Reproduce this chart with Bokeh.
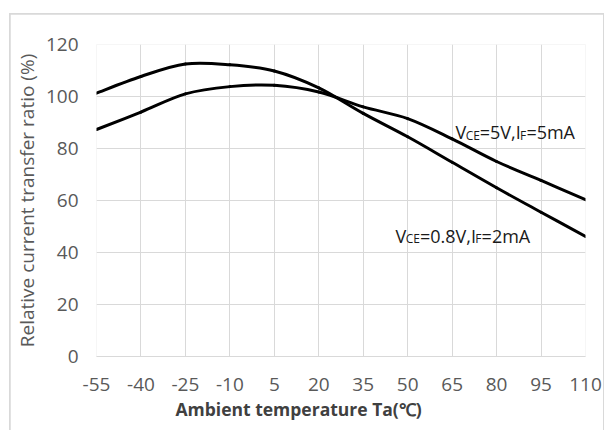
from bokeh.plotting import figure
from bokeh.models import FixedTicker, ColumnDataSource, Range1d, Title
from bokeh.layouts import column
from bokeh.embed import file_html
from bokeh.resources import INLINE
from bokeh.core.properties import value

# ---- data ----
temps = [-55, -40, -25, -10, 5, 20, 35, 50, 65, 80, 95, 110]
ctr_5v_5ma = [87.3, 94.0, 101.0, 103.8, 104.3, 101.7, 96.0, 91.5, 83.7, 75.0, 67.7, 60.3]
ctr_08v_2ma = [101.3, 107.7, 112.5, 112.2, 109.8, 103.3, 93.5, 84.5, 74.7, 64.9, 55.5, 46.2]
y_ticks = [0, 20, 40, 60, 80, 100, 120]
x_label = "Ambient temperature Ta(\u2103)"
y_label = "Relative current transfer ratio (%)"

# labels: list of (text, is_subscript)
label_5v = [("V", False), ("CE", True), ("=5V,I", False), ("F", True), ("=5mA", False)]
label_08v = [("V", False), ("CE", True), ("=0.8V,I", False), ("F", True), ("=2mA", False)]
label_5v_pos = (66.1, 86.2)
label_08v_pos = (45.9, 46.5)

FONT = "Open Sans"
GRID = "#d9d9d9"
TICK_COL = "#595959"

p = figure(width=593, height=416, x_range=Range1d(-55, 110), y_range=Range1d(0, 120),
           output_backend="svg", toolbar_location=None,
           min_border_left=86, min_border_right=18, min_border_top=30, min_border_bottom=74,
           margin=(1, 1, 0, 1))
p.outline_line_color = None
p.background_fill_color = "white"
p.border_fill_color = "white"

p.xaxis.ticker = FixedTicker(ticks=temps)
p.yaxis.ticker = FixedTicker(ticks=y_ticks)
p.xaxis.major_label_overrides = {t: str(t) for t in temps}
p.xgrid.ticker = FixedTicker(ticks=temps)
p.ygrid.ticker = FixedTicker(ticks=y_ticks)
for g in (p.xgrid, p.ygrid):
    g.grid_line_color = GRID
    g.grid_line_width = 1

for ax in (p.xaxis, p.yaxis):
    ax.major_tick_line_color = None
    ax.minor_tick_line_color = None
    ax.major_label_text_font = FONT
    ax.major_label_text_font_size = "19px"
    ax.major_label_text_color = TICK_COL
    ax.axis_label_text_font = FONT
    ax.axis_label_text_font_style = "normal"

p.xaxis.axis_line_color = GRID
p.yaxis.axis_line_color = None
p.xaxis.major_label_standoff = 15
p.yaxis.major_label_standoff = 12

p.yaxis.axis_label = y_label
p.yaxis.axis_label_text_font_size = "19px"
p.yaxis.axis_label_text_color = TICK_COL
p.yaxis.axis_label_standoff = 3

# x-axis title, left-aligned with an offset so it is centred on the chart box (as in the reference)
p.add_layout(Title(text=x_label, align="left", offset=79, standoff=2, text_font=FONT,
                   text_font_size="17.5px", text_font_style="bold", text_color="#404040"), "below")

# smoothed lines (Excel-style smoothing drawn as cubic Bezier segments through the data points)
def smooth_segments(xs, ys):
    n = len(xs)
    d = dict(x0=[], y0=[], x1=[], y1=[], cx0=[], cy0=[], cx1=[], cy1=[])
    for i in range(n - 1):
        xm, ym = (xs[i - 1], ys[i - 1]) if i > 0 else (xs[i], ys[i])
        xp, yp = (xs[i + 2], ys[i + 2]) if i + 2 < n else (xs[i + 1], ys[i + 1])
        d["x0"].append(xs[i]); d["y0"].append(ys[i])
        d["x1"].append(xs[i + 1]); d["y1"].append(ys[i + 1])
        d["cx0"].append(xs[i] + (xs[i + 1] - xm) / 6); d["cy0"].append(ys[i] + (ys[i + 1] - ym) / 6)
        d["cx1"].append(xs[i + 1] - (xp - xs[i]) / 6); d["cy1"].append(ys[i + 1] - (yp - ys[i]) / 6)
    return ColumnDataSource(d)

for series in (ctr_5v_5ma, ctr_08v_2ma):
    p.bezier(x0="x0", y0="y0", x1="x1", y1="y1", cx0="cx0", cy0="cy0", cx1="cx1", cy1="cy1",
             line_color="black", line_width=3, line_cap="round", source=smooth_segments(temps, series))

# text labels with subscripts
W = {"V": 0.569, "C": 0.617, "E": 0.561, "=": 0.572, "0": 0.572, "2": 0.572, "5": 0.572,
     "8": 0.572, ".": 0.266, ",": 0.244, "I": 0.28, "F": 0.528, "m": 0.855, "A": 0.633}
BIG, SUB = 18, 12

def pieces(parts, pos):
    xs, ys, txt, dx, dy, sz = [], [], [], [], [], []
    off = 0.0
    for t, sub in parts:
        s = SUB if sub else BIG
        xs.append(pos[0]); ys.append(pos[1]); txt.append(t)
        dx.append(off); dy.append(3 if sub else 0); sz.append(f"{s}px")
        off += sum(W.get(c, 0.55) for c in t) * s
    return dict(x=xs, y=ys, text=txt, dx=dx, dy=dy, size=sz)

for parts, pos in ((label_5v, label_5v_pos), (label_08v, label_08v_pos)):
    src = ColumnDataSource(pieces(parts, pos))
    p.text(x="x", y="y", text="text", x_offset="dx", y_offset="dy", text_font_size="size",
           text_font=value(FONT), text_color="#1a1a1a", text_baseline="alphabetic",
           text_align="left", source=src)

# light grey chart box: the column's background shows through the figure's 1px margins
layout = column(p, background=GRID, margin=(13, 0, 0, 9), spacing=0)

open("out.html", "w").write(file_html(layout, INLINE))
